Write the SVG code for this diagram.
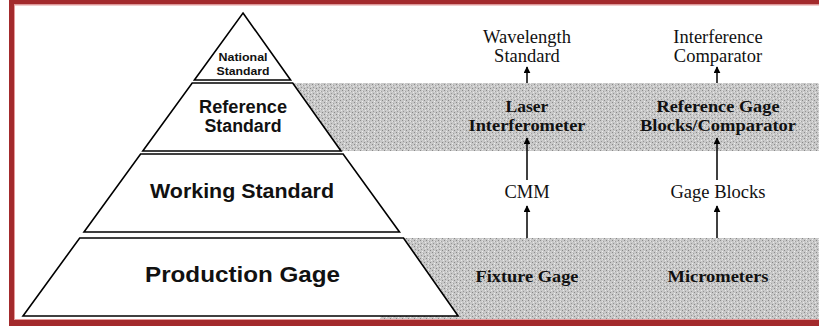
<svg xmlns="http://www.w3.org/2000/svg" width="819" height="326" viewBox="0 0 819 326">
<defs>
<pattern id="tex" x="0" y="0" width="6" height="6" patternUnits="userSpaceOnUse">
<rect width="6" height="6" fill="#c8c8c8"/>
<rect x="0" y="0" width="1" height="1" fill="#8a8a8a"/>
<rect x="3" y="1" width="1" height="1" fill="#a0a0a0"/>
<rect x="1" y="3" width="1" height="1" fill="#979797"/>
<rect x="4" y="4" width="1" height="1" fill="#888"/>
<rect x="5" y="2" width="1" height="1" fill="#e8e8e8"/>
<rect x="2" y="5" width="1" height="1" fill="#eee"/>
<rect x="2" y="1" width="1" height="1" fill="#e2e2e2"/>
</pattern>
<marker id="ah" viewBox="0 0 10 10" refX="9" refY="5" markerWidth="7" markerHeight="7" markerUnits="userSpaceOnUse" orient="auto">
<path d="M0,0 L10,5 L0,10 z" fill="#000"/>
</marker>
</defs>
<style>
.tier{fill:#fff;stroke:#000;stroke-width:1.6;stroke-linejoin:miter}
.ps{font-family:"Liberation Sans",Arial,sans-serif;font-weight:bold;fill:#111;text-anchor:middle}
.sr{font-family:"Liberation Serif","Times New Roman",serif;fill:#111;text-anchor:middle;font-size:18.5px}
.sb{font-family:"Liberation Serif","Times New Roman",serif;font-weight:bold;fill:#111;text-anchor:middle;font-size:17.5px}
.arr{stroke:#000;stroke-width:1.5;fill:none;marker-end:url(#ah)}
</style>
<rect width="819" height="326" fill="#fff"/>
<!-- gray bands -->
<rect x="280" y="83" width="539" height="68" fill="url(#tex)"/>
<rect x="380" y="238" width="439" height="81" fill="url(#tex)"/>
<!-- border -->
<g id="frame">
<rect x="9" y="0" width="810" height="4.5" fill="#a32a2c"/>
<rect x="9" y="0" width="5" height="326" fill="#a32a2c"/>
<rect x="9" y="320" width="810" height="6" fill="#a32a2c"/>
<line x1="14.5" y1="4.5" x2="14.5" y2="320" stroke="#e69a9a" stroke-width="1"/>
<line x1="14" y1="5" x2="819" y2="5" stroke="#e69a9a" stroke-width="1"/>
<line x1="14" y1="319.5" x2="819" y2="319.5" stroke="#e69a9a" stroke-width="1"/>
</g>
<g id="national">
<polygon class="tier" points="243,13 290.6,80 194.4,80"/>
<text class="ps" x="243" y="61" font-size="11.5" textLength="49" lengthAdjust="spacingAndGlyphs">National</text>
<text class="ps" x="243" y="74.5" font-size="11.5" textLength="53" lengthAdjust="spacingAndGlyphs">Standard</text>
</g>
<g id="reference">
<polygon class="tier" points="192.2,83 292.7,83 341,151 142.8,151"/>
<text class="ps" x="243" y="113" font-size="18" textLength="88" lengthAdjust="spacingAndGlyphs">Reference</text>
<text class="ps" x="243" y="132" font-size="18" textLength="77" lengthAdjust="spacingAndGlyphs">Standard</text>
</g>
<g id="working">
<polygon class="tier" points="140.6,154 343.1,154 399.5,232 84,232"/>
<text class="ps" x="242" y="198" font-size="20" textLength="184" lengthAdjust="spacingAndGlyphs">Working Standard</text>
</g>
<g id="production">
<polygon class="tier" points="79.7,238 403.5,238 458.1,316 23,316"/>
<text class="ps" x="242.5" y="282" font-size="22.5" textLength="195" lengthAdjust="spacingAndGlyphs">Production Gage</text>
</g>
<g id="wavelength">
<text class="sr" x="527" y="43">Wavelength</text>
<text class="sr" x="527" y="62">Standard</text>
</g>
<g id="interference">
<text class="sr" x="718" y="43">Interference</text>
<text class="sr" x="718" y="62">Comparator</text>
</g>
<g id="laser">
<text class="sb" x="527" y="111.5">Laser</text>
<text class="sb" x="527" y="130.5" textLength="117" lengthAdjust="spacingAndGlyphs">Interferometer</text>
</g>
<g id="refgage">
<text class="sb" x="718" y="111.5" textLength="123" lengthAdjust="spacingAndGlyphs">Reference Gage</text>
<text class="sb" x="718" y="130.5" textLength="156" lengthAdjust="spacingAndGlyphs">Blocks/Comparator</text>
</g>
<g id="cmm">
<text class="sr" x="527" y="198">CMM</text>
</g>
<g id="gageblocks">
<text class="sr" x="718" y="198">Gage Blocks</text>
</g>
<g id="fixture">
<text class="sb" x="527" y="282" textLength="103" lengthAdjust="spacingAndGlyphs">Fixture Gage</text>
</g>
<g id="micrometers">
<text class="sb" x="718" y="282" textLength="101" lengthAdjust="spacingAndGlyphs">Micrometers</text>
</g>
<g id="connectors">
<line class="arr" x1="527" y1="83" x2="527" y2="67"/>
<line class="arr" x1="717" y1="83" x2="717" y2="67"/>
<line class="arr" x1="527" y1="180" x2="527" y2="138"/>
<line class="arr" x1="717" y1="180" x2="717" y2="138"/>
<line class="arr" x1="527" y1="238" x2="527" y2="206"/>
<line class="arr" x1="717" y1="238" x2="717" y2="206"/>
</g>
</svg>
